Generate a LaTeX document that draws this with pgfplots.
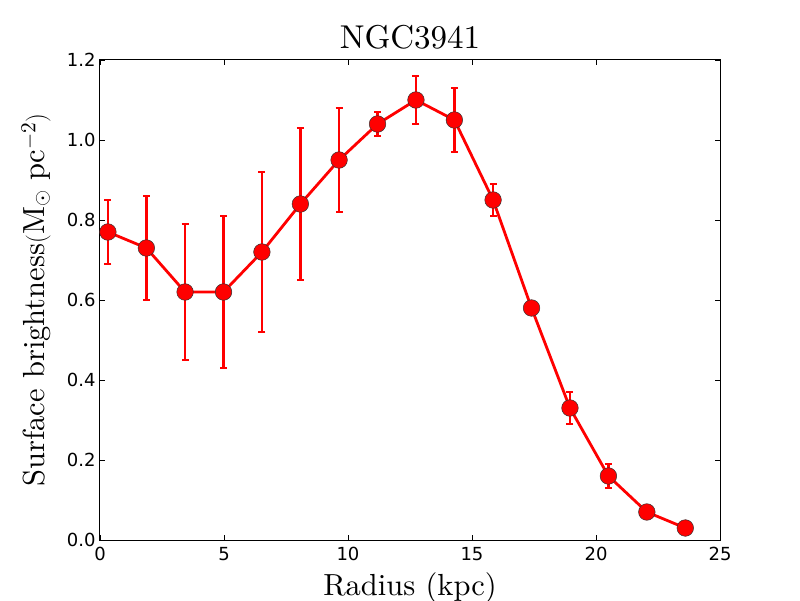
\documentclass[border=0pt]{standalone}
\usepackage{fontspec}
\setmainfont{lmroman10-regular.otf}
\usepackage{pgfplots}
\pgfplotsset{compat=1.18}
\newfontfamily\dejavu{DejaVu Sans}
\definecolor{mplred}{RGB}{255,0,0}
\begin{document}
\begin{tikzpicture}
\begin{axis}[
  at={(0pt,0pt)}, anchor=south west,
  scale only axis,
  width=620pt, height=480pt,
  xmin=0, xmax=25, ymin=0, ymax=1.2,
  xtick={0,5,10,15,20,25},
  ytick={0,0.2,0.4,0.6,0.8,1.0,1.2},
  tick align=inside,
  major tick length=5.5pt,
  tick style={black, line width=0.7pt},
  axis line style={line width=1pt},
  ticklabel style={font=\dejavu\fontsize{18}{21}\selectfont},
  /pgf/number format/assume math mode=true,
  yticklabel style={xshift=-1pt, /pgf/number format/.cd, fixed, fixed zerofill, precision=1},
  xticklabel style={yshift=-4pt, /pgf/number format/.cd, fixed, precision=0},
  scaled y ticks=false,
  title={NGC3941},
  title style={font=\fontsize{33}{36}\selectfont,
    at={(axis description cs:0.5,1)}, anchor=base, yshift=5pt},
  xlabel={Radius (kpc)},
  ylabel={Surface brightness$(\mathrm{M_\odot\ pc^{-2}})$},
  label style={font=\fontsize{30.5}{34}\selectfont},
  xlabel style={at={(axis description cs:0.5,0)}, anchor=base, yshift=-55pt},
  ylabel style={at={(axis description cs:0,0.5)}, anchor=center, rotate=0, yshift=64pt},
]
\addplot[color=mplred, line width=2.8pt, mark=*,
  mark size=8.3pt, mark options={fill=mplred, draw=black!80, line width=0.5pt},
  error bars/.cd, y dir=both, y explicit,
  error bar style={mplred, line width=2.8pt},
  error mark options={rotate=90, mplred, mark size=3.5pt, line width=1.8pt}]
coordinates {
(0.32, 0.77) +- (0, 0.08)
(1.87, 0.73) +- (0, 0.13)
(3.43, 0.62) +- (0, 0.17)
(4.98, 0.62) +- (0, 0.19)
(6.53, 0.72) +- (0, 0.20)
(8.08, 0.84) +- (0, 0.19)
(9.64, 0.95) +- (0, 0.13)
(11.19, 1.04) +- (0, 0.03)
(12.74, 1.10) +- (0, 0.06)
(14.29, 1.05) +- (0, 0.08)
(15.85, 0.85) +- (0, 0.04)
(17.40, 0.58) +- (0, 0.01)
(18.95, 0.33) +- (0, 0.04)
(20.50, 0.16) +- (0, 0.03)
(22.05, 0.07) +- (0, 0.01)
(23.60, 0.03) +- (0, 0.005)
};
\end{axis}
\pgfresetboundingbox
\path (-100pt,-60pt) rectangle (700pt,540pt);
\end{tikzpicture}
\end{document}
